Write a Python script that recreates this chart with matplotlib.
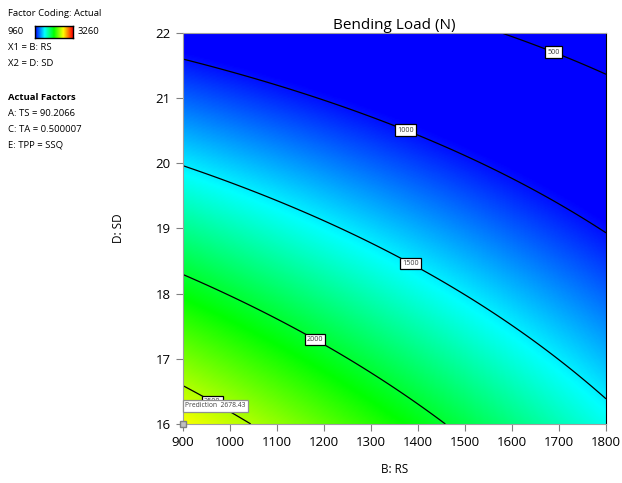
import numpy as np
import matplotlib.pyplot as plt
from matplotlib.colors import LinearSegmentedColormap

plt.rcParams['font.family'] = ['Open Sans', 'DejaVu Sans']

# points: RS, SD, bending load
pt_rs = [1609, 1689, 1800,
         900, 1113, 1372, 1538, 1800,
         900, 1113, 1383, 1609, 1800,
         900, 1042, 1181, 1326, 1450,
         900, 1042, 900]
pt_sd = [21.89, 21.73, 21.34,
         21.63, 21.18, 20.49, 20.0, 18.98,
         19.96, 19.36, 18.45, 17.55, 16.32,
         18.26, 17.80, 17.30, 16.73, 16.0,
         16.59, 16.0, 16.0]
pt_load = [500, 500, 500,
           1000, 1000, 1000, 1000, 1000,
           1500, 1500, 1500, 1500, 1500,
           2000, 2000, 2000, 2000, 2000,
           2500, 2500, 2678.43]

levels = [500, 1000, 1500, 2000, 2500]
label_pos = [(1689, 21.73), (1372, 20.49), (1383, 18.45), (1181, 17.30), (967, 16.40)]
x_ticks = [900, 1000, 1100, 1200, 1300, 1400, 1500, 1600, 1700, 1800]
y_ticks = [16, 17, 18, 19, 20, 21, 22]
cmin, cmax = 960, 3260


def terms(x, y):
    u = (np.asarray(x, float) - 1350) / 450
    v = (np.asarray(y, float) - 19) / 3
    return np.stack([np.ones_like(u), u, v, u * v, u ** 2, v ** 2], axis=-1)


coef, *_ = np.linalg.lstsq(terms(pt_rs, pt_sd), np.array(pt_load), rcond=None)

xs = np.linspace(900, 1800, 300)
ys = np.linspace(16, 22, 300)
X, Y = np.meshgrid(xs, ys)
Z = terms(X, Y) @ coef

cmap = LinearSegmentedColormap.from_list(
    'de', ['#0000ff', '#00ffff', '#00ff00', '#ffff00', '#ff0000'])

fig = plt.figure(figsize=(6.22, 4.83), dpi=100)
ax = fig.add_axes([0.2942, 0.1222, 0.6801, 0.8095])
ax.imshow(Z, extent=[900, 1800, 16, 22], origin='lower', aspect='auto',
          cmap=cmap, vmin=cmin, vmax=cmax, interpolation='bilinear')
cs = ax.contour(X, Y, Z, levels=levels, colors='black', linewidths=0.9)
labs = ax.clabel(cs, fmt='%d', fontsize=5.2, manual=label_pos, inline=False)
for t in labs:
    t.set_rotation(0)
    t.set_zorder(4)
    t.set_color('#404040')
    t.set_bbox(dict(boxstyle='square,pad=0.3', fc='white', ec='black', lw=0.9))

ax.set_xlim(900, 1800)
ax.set_ylim(16, 22)
ax.set_xticks(x_ticks)
ax.set_yticks(y_ticks)
ax.tick_params(direction='out', length=5, color='#808080', labelsize=9.5, pad=4)
for side in ['left', 'bottom', 'top']:
    ax.spines[side].set_color('#a0a0a0')
ax.spines['right'].set_color('black')
ax.set_title('Bending Load (N)', fontsize=11, pad=3)
ax.set_xlabel('B: RS', fontsize=8.5, labelpad=10)
ax.set_ylabel('D: SD', fontsize=8.5, labelpad=22)

# prediction flag
ax.plot([900], [16], marker='s', ms=4, mfc='#c0c0c0', mec='#808080', clip_on=False, zorder=5)
ax.text(905, 16.28, 'Prediction  2678.43', fontsize=4.9, va='center', ha='left', zorder=6,
        color='#404040',
        bbox=dict(boxstyle='square,pad=0.35', fc='white', ec='#909090', lw=0.9))

# side notes
fs = 6.8
fig.text(8 / 622, 1 - 13 / 483, 'Factor Coding: Actual', fontsize=fs, va='center')
fig.text(8 / 622, 1 - 32 / 483, str(cmin), fontsize=fs, va='center')
fig.text(78 / 622, 1 - 32 / 483, str(cmax), fontsize=fs, va='center')
cax = fig.add_axes([35 / 622, 1 - 38 / 483, 38 / 622, 12 / 483])
cax.imshow(np.linspace(0, 1, 100)[None, :], aspect='auto', cmap=cmap)
cax.set_xticks([])
cax.set_yticks([])
for s in cax.spines.values():
    s.set_linewidth(1.0)
fig.text(8 / 622, 1 - 47 / 483, 'X1 = B: RS', fontsize=fs, va='center')
fig.text(8 / 622, 1 - 63 / 483, 'X2 = D: SD', fontsize=fs, va='center')
fig.text(8 / 622, 1 - 97 / 483, 'Actual Factors', fontsize=fs, va='center', weight='bold')
fig.text(8 / 622, 1 - 113 / 483, 'A: TS = 90.2066', fontsize=fs, va='center')
fig.text(8 / 622, 1 - 129 / 483, 'C: TA = 0.500007', fontsize=fs, va='center')
fig.text(8 / 622, 1 - 145 / 483, 'E: TPP = SSQ', fontsize=fs, va='center')

fig.savefig('out.png', dpi=100)
